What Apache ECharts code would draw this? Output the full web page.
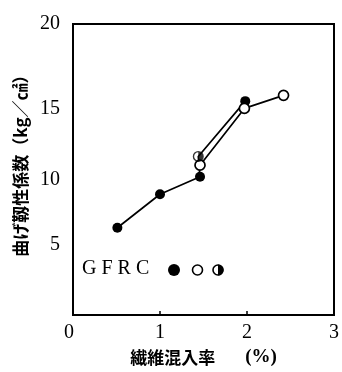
<!DOCTYPE html>
<html>
<head>
<meta charset="utf-8">
<script src="https://cdn.jsdelivr.net/npm/echarts@6/dist/echarts.min.js"></script>
<style>html,body{margin:0;padding:0;background:#fff}#c{width:342px;height:372px}</style>
</head>
<body>
<div id="c"></div>
<script>
// ---- data ----
const filledX = [0.51, 1.0, 1.46, 1.44, 1.98];
const filledY = [6.0, 8.3, 9.5, 10.9, 14.7];
const openX = [1.46, 1.97, 2.42];
const openY = [10.3, 14.2, 15.1];
const halfX = [1.44];
const halfY = [10.9];
const xTicks = [0, 1, 2, 3];
const yTicks = [0, 5, 10, 15, 20];
const xTitleMain = '繊維混入率';
const xTitleUnit = '(%)';
const yTitle = '曲げ靱性係数（kg／㎠）';
const legendLabel = 'G F R C';

const HALF = 'path://M10,0 A10,10 0 1,1 10,20 A10,10 0 1,1 10,0 Z M10,2.5 A7.5,7.5 0 0,0 10,17.5 L10,2.5 Z';
const serif = '"Liberation Serif","DejaVu Serif",serif';
const cjk = '"Noto Sans CJK JP","Liberation Serif",sans-serif';

const chart = echarts.init(document.getElementById('c'), null, {renderer: 'canvas'});
const zip = (xs, ys) => xs.map((x, i) => [x, ys[i]]);
const filledData = zip(filledX, filledY).map((p, i) => i === 3 ? {value: p, symbol: 'none'} : p);
const lbl = {fontFamily: serif, fontSize: 20, color: '#000'};

chart.setOption({
  animation: false,
  backgroundColor: '#fff',
  grid: {left: 73, top: 24, right: 5, bottom: 49, show: true, borderColor: '#000', borderWidth: 2},
  xAxis: {
    type: 'value', min: xTicks[0], max: xTicks[xTicks.length - 1], interval: 1,
    name: '{m|' + xTitleMain + '}{u|' + xTitleUnit + '}', nameLocation: 'middle', nameGap: 27,
    nameTextStyle: {
      fontFamily: cjk, fontSize: 17, fontWeight: 'bold', color: '#000',
      rich: {
        m: {fontFamily: cjk, fontSize: 17, fontWeight: 'bold', color: '#000'},
        u: {fontFamily: serif, fontSize: 19, fontWeight: 'bold', color: '#000', padding: [0, 0, 0, 30]}
      }
    },
    axisLine: {show: false},
    axisTick: {show: true, inside: true, length: 4, lineStyle: {color: '#000', width: 1.5}},
    splitLine: {show: false},
    axisLabel: {fontFamily: serif, fontSize: 20, color: '#000', margin: 8,
      formatter: v => v === 0 ? '{z|0}' : (xTicks.includes(v) ? '{n|' + v + '}' : ''),
      rich: {z: Object.assign({padding: [0, 8, 0, 0]}, lbl), n: lbl}}
  },
  yAxis: {
    type: 'value', min: yTicks[0], max: yTicks[yTicks.length - 1], interval: 5,
    name: yTitle, nameLocation: 'middle', nameGap: 43, nameRotate: 90,
    nameTextStyle: {fontFamily: cjk, fontSize: 17, fontWeight: 'bold', color: '#000', padding: [0, 0, 0, 16]},
    axisLine: {show: false},
    axisTick: {show: false},
    splitLine: {show: false},
    axisLabel: {
      fontFamily: serif, fontSize: 20, color: '#000', margin: 13,
      formatter: v => v === 0 ? '' : '{s' + v + '|' + v + '}',
      rich: {
        s20: lbl,
        s15: Object.assign({padding: [24, 0, 0, 0]}, lbl),
        s10: Object.assign({padding: [20, 0, 0, 0]}, lbl),
        s5: Object.assign({padding: [4, 0, 0, 0]}, lbl)
      }
    }
  },
  series: [
    {
      type: 'line', data: filledData, symbol: 'circle', symbolSize: 10,
      lineStyle: {color: '#000', width: 1.7}, itemStyle: {color: '#000'}, z: 3
    },
    {
      type: 'line', data: zip(openX, openY), symbol: 'circle', symbolSize: 10,
      lineStyle: {color: '#000', width: 1.7},
      itemStyle: {color: '#fff', borderColor: '#000', borderWidth: 1.7}, z: 4
    },
    {
      type: 'scatter', data: zip(halfX, halfY), symbol: HALF, symbolSize: 11,
      itemStyle: {color: '#000'}, z: 5
    }
  ],
  graphic: [
    {type: 'text', x: 82, y: 259, style: {text: legendLabel, font: '20px ' + serif, fill: '#000'}},
    {type: 'circle', shape: {cx: 174, cy: 270, r: 6}, style: {fill: '#000'}},
    {type: 'circle', shape: {cx: 197.5, cy: 270, r: 5}, style: {fill: '#fff', stroke: '#000', lineWidth: 1.6}},
    {type: 'circle', shape: {cx: 218, cy: 270, r: 5}, style: {fill: '#fff', stroke: '#000', lineWidth: 1.6}},
    {type: 'sector', shape: {cx: 218, cy: 270, r: 5.5, r0: 0, startAngle: -Math.PI / 2, endAngle: Math.PI / 2}, style: {fill: '#000'}}
  ]
});
</script>
</body>
</html>
